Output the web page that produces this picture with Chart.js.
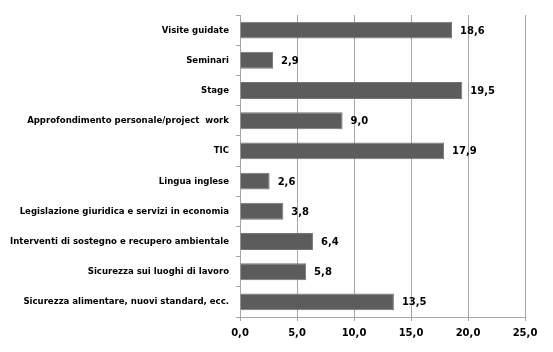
<!doctype html>
<html>
<head>
<title>Attività</title>
<script src="https://cdn.jsdelivr.net/npm/chart.js@4.4.9/dist/chart.umd.min.js"></script>
<script>
const categories = [
  'Visite guidate',
  'Seminari',
  'Stage',
  'Approfondimento personale/project  work',
  'TIC',
  'Lingua inglese',
  'Legislazione giuridica e servizi in economia',
  'Interventi di sostegno e recupero ambientale',
  'Sicurezza sui luoghi di lavoro',
  'Sicurezza alimentare, nuovi standard, ecc.'
];
const values = [18.6, 2.9, 19.5, 9.0, 17.9, 2.6, 3.8, 6.4, 5.8, 13.5];

const fmt = v => v.toFixed(1).replace('.', ',');

const valueLabels = {
  id: 'valueLabels',
  afterDatasetsDraw(chart) {
    const ctx = chart.ctx;
    const meta = chart.getDatasetMeta(0);
    ctx.save();
    ctx.font = 'bold 10px "DejaVu Sans"';
    ctx.fillStyle = '#000';
    ctx.textBaseline = 'middle';
    meta.data.forEach((bar, i) => {
      ctx.fillText(fmt(values[i]), bar.x + 8, bar.y + 1);
    });
    ctx.restore();
  }
};

function go() {
  new Chart(document.getElementById('chart'), {
    type: 'bar',
    data: {
      labels: categories,
      datasets: [{
        data: values,
        backgroundColor: '#5c5c5c',
        borderColor: '#757575',
        borderWidth: 1,
        barPercentage: 0.56,
        categoryPercentage: 1
      }]
    },
    options: {
      indexAxis: 'y',
      responsive: false,
      animation: false,
      layout: { padding: { top: 15, right: 28, left: 0, bottom: 0 } },
      plugins: { legend: { display: false }, tooltip: { enabled: false } },
      scales: {
        x: {
          min: 0, max: 25,
          ticks: {
            stepSize: 5,
            callback: v => fmt(v),
            color: '#000',
            font: { family: 'DejaVu Sans', weight: 'bold', size: 10 },
            padding: 6
          },
          grid: { color: '#a6a6a6', tickLength: 4, tickColor: '#a6a6a6' },
          border: { color: '#a6a6a6' },
          afterFit: s => { s.height = 35; }
        },
        y: {
          ticks: {
            color: '#000',
            font: { family: '"Liberation Sans Narrow", "DejaVu Sans Condensed", "Liberation Sans", sans-serif', weight: 'bold', size: 9.5 },
            padding: 7,
            autoSkip: false
          },
          grid: { drawOnChartArea: false, tickLength: 4, tickColor: '#a6a6a6' },
          border: { color: '#a6a6a6' },
          afterFit: s => { s.width = 240; }
        }
      }
    },
    plugins: [valueLabels]
  });
}
window.onload = go;
</script>
</head>
<body style="margin:0;background:#fff">
<canvas id="chart" width="553" height="352"></canvas>
</body>
</html>
